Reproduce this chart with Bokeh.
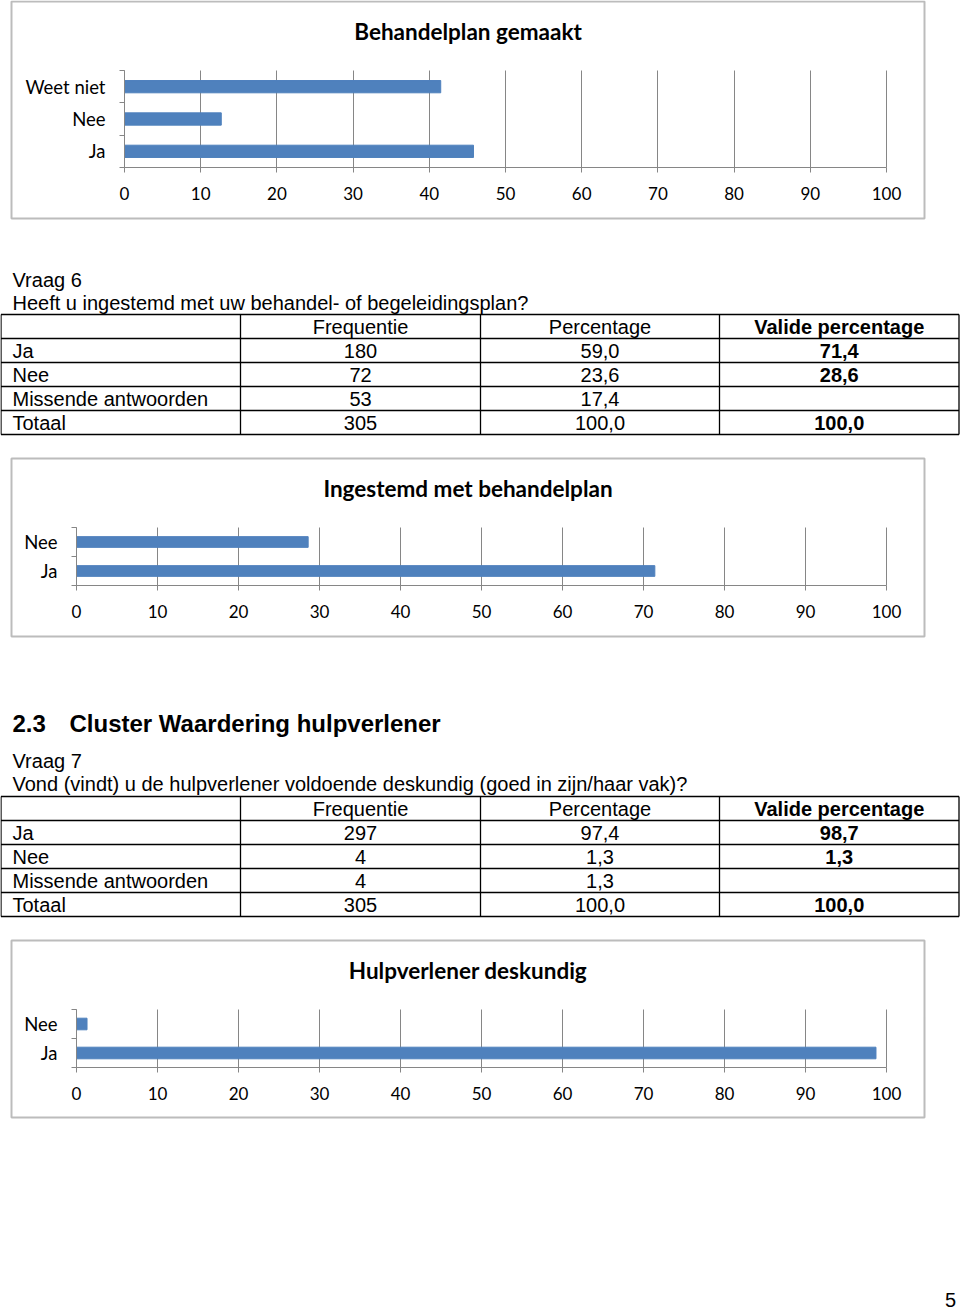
from bokeh.plotting import figure
from bokeh.models import Range1d, LinearAxis, FixedTicker, Grid, Label
from bokeh.layouts import column
from bokeh.embed import file_html
from bokeh.resources import INLINE
from bokeh.core.properties import value

# ---------------- data ----------------
x_ticks = [0, 10, 20, 30, 40, 50, 60, 70, 80, 90, 100]

c1_title = "Behandelplan gemaakt"
c1_cats = ["Ja", "Nee", "Weet niet"]
c1_vals = [45.8, 12.7, 41.5]

c2_title = "Ingestemd met behandelplan"
c2_cats = ["Ja", "Nee"]
c2_vals = [71.4, 28.6]

c3_title = "Hulpverlener deskundig"
c3_cats = ["Ja", "Nee"]
c3_vals = [98.7, 1.3]

table_headers = ["", "Frequentie", "Percentage", "Valide percentage"]

q6_label = "Vraag 6"
q6_question = "Heeft u ingestemd met uw behandel- of begeleidingsplan?"
q6_rows = ["Ja", "Nee", "Missende antwoorden", "Totaal"]
q6_freq = [180, 72, 53, 305]
q6_pct = [59.0, 23.6, 17.4, 100.0]
q6_valid = [71.4, 28.6, None, 100.0]

section_num = "2.3"
section_title = "Cluster Waardering hulpverlener"
q7_label = "Vraag 7"
q7_question = "Vond (vindt) u de hulpverlener voldoende deskundig (goed in zijn/haar vak)?"
q7_rows = ["Ja", "Nee", "Missende antwoorden", "Totaal"]
q7_freq = [297, 4, 4, 305]
q7_pct = [97.4, 1.3, 1.3, 100.0]
q7_valid = [98.7, 1.3, None, 100.0]

page_number = "5"

# ---------------- styles ----------------
W = 960
CHART_FONT = "Lato"
TEXT_FONT = "Liberation Sans"
BAR = "#4f81bd"
AXIS = "#868686"
BOX = "#bcbcbc"


def nl(v):
    return "" if v is None else f"{v:.1f}".replace(".", ",")


def base_fig(h, xr, yr):
    p = figure(width=W, height=h, x_range=xr, y_range=yr,
               x_axis_type=None, y_axis_type=None, title=None,
               output_backend="svg", toolbar_location=None, min_border=0)
    p.outline_line_color = None
    p.background_fill_color = "white"
    p.border_fill_color = "white"
    return p


def chart(sec_top, sec_bot, box, title, title_y, cats, vals, x0px, x100px,
          top_px, axis_px, bar_h):
    bl, bt, br, bb = box
    scale = (x100px - x0px) / 100.0
    n = len(cats)
    band = (axis_px - top_px) / n
    fx = lambda px: (px - x0px) / scale
    fy = lambda py: (axis_px - py) / band
    p = base_fig(sec_bot - sec_top, Range1d(fx(0), fx(W)), Range1d(fy(sec_bot), fy(sec_top)))

    # chart area frame
    p.quad(left=[fx(bl)], right=[fx(br)], top=[fy(bt)], bottom=[fy(bb)],
           fill_color=None, line_color=BOX, line_width=2)

    xt = FixedTicker(ticks=x_ticks)
    grid_kw = dict(dimension=0, ticker=xt, grid_line_color=AXIS, grid_line_width=1)
    try:
        g = Grid(cross_bounds=(0, n), **grid_kw)
        p.add_layout(g)
    except Exception:
        p.segment(x0=x_ticks, x1=x_ticks, y0=[0] * len(x_ticks), y1=[n] * len(x_ticks),
                  line_color=AXIS, line_width=1)

    p.hbar(y=[i + 0.5 for i in range(n)], left=0, right=vals, height=bar_h,
           fill_color=BAR, line_color=BAR)

    xa = LinearAxis(ticker=xt, fixed_location=0, bounds=(0, 100),
                    axis_line_color=AXIS, axis_line_width=1,
                    major_tick_line_color=AXIS, major_tick_in=0, major_tick_out=5,
                    minor_tick_line_color=None,
                    major_label_text_font=CHART_FONT,
                    major_label_text_font_size="17px",
                    major_label_text_color="black",
                    major_label_standoff=14)
    p.add_layout(xa, "below")

    yt = FixedTicker(ticks=[i + 0.5 for i in range(n)], minor_ticks=list(range(n + 1)))
    ya = LinearAxis(ticker=yt, fixed_location=0, bounds=(0, n),
                    major_label_overrides={i + 0.5: c for i, c in enumerate(cats)},
                    axis_line_color=AXIS, axis_line_width=1,
                    major_tick_line_color=None, major_tick_in=0, major_tick_out=5,
                    minor_tick_line_color=AXIS, minor_tick_in=0, minor_tick_out=5,
                    major_label_text_font=CHART_FONT,
                    major_label_text_font_size="18.5px",
                    major_label_text_color="black",
                    major_label_standoff=14)
    p.add_layout(ya, "left")

    cx = (bl + br) / 2.0
    p.add_layout(Label(x=fx(cx), y=fy(title_y),
                       text=title, text_align="center", text_baseline="middle",
                       text_font=CHART_FONT, text_font_style="bold",
                       text_font_size="22.5px", text_color="black"))
    return p


def text_fig(sec_top, sec_bot):
    return base_fig(sec_bot - sec_top, Range1d(0, W), Range1d(sec_bot, sec_top))


def put(p, x, y, s, size="20px", style="normal", align="left"):
    p.text(x=[x], y=[y], text=[s], text_font=value(TEXT_FONT), text_font_size=value(size),
           text_font_style=style, text_align=align, text_baseline="middle", text_color="black")


def table(p, top, rows, freq, pct, valid):
    row_h = 24
    col_x = [0.5, 240, 480, 719, 958.5]
    nrows = len(rows) + 1
    ys = [top + row_h * k for k in range(nrows + 1)]
    p.segment(x0=[col_x[0]] * len(ys), x1=[col_x[-1]] * len(ys), y0=ys, y1=ys,
              line_color="black", line_width=1.3)
    p.segment(x0=col_x, x1=col_x, y0=[ys[0]] * len(col_x), y1=[ys[-1]] * len(col_x),
              line_color="black", line_width=1.3)
    centers = [(col_x[i] + col_x[i + 1]) / 2 for i in range(4)]
    yc = [top + row_h * (k + 0.5) for k in range(nrows)]
    for j, h in enumerate(table_headers[1:], start=1):
        put(p, centers[j], yc[0], h, style="bold" if j == 3 else "normal", align="center")
    for k, lab in enumerate(rows):
        y = yc[k + 1]
        put(p, 12, y, lab)
        put(p, centers[1], y, str(freq[k]), align="center")
        put(p, centers[2], y, nl(pct[k]), align="center")
        put(p, centers[3], y, nl(valid[k]), style="bold", align="center")


# ---------------- sections ----------------
figA = chart(0, 240, (11, 1, 924, 218), c1_title, 31, c1_cats, c1_vals,
             124, 886, 70, 167, 0.38)

figB = text_fig(240, 450)
put(figB, 12, 279, q6_label)
put(figB, 12, 302, q6_question)
table(figB, 314, q6_rows, q6_freq, q6_pct, q6_valid)

figC = chart(450, 650, (11, 458, 924, 636), c2_title, 488, c2_cats, c2_vals,
             76, 886, 527, 585, 0.37)

figD = text_fig(650, 930)
put(figD, 12, 723, section_num, size="24px", style="bold")
put(figD, 69, 723, section_title, size="24px", style="bold")
put(figD, 12, 760, q7_label)
put(figD, 12, 783, q7_question)
table(figD, 796, q7_rows, q7_freq, q7_pct, q7_valid)

figE = chart(930, 1130, (11, 940, 924, 1117), c3_title, 970, c3_cats, c3_vals,
             76, 886, 1009, 1067, 0.4)

figF = text_fig(1130, 1311)
put(figF, 950, 1299, page_number, size="20px", align="center")

layout = column(figA, figB, figC, figD, figE, figF, spacing=0)
open("out.html", "w").write(file_html(layout, INLINE))
